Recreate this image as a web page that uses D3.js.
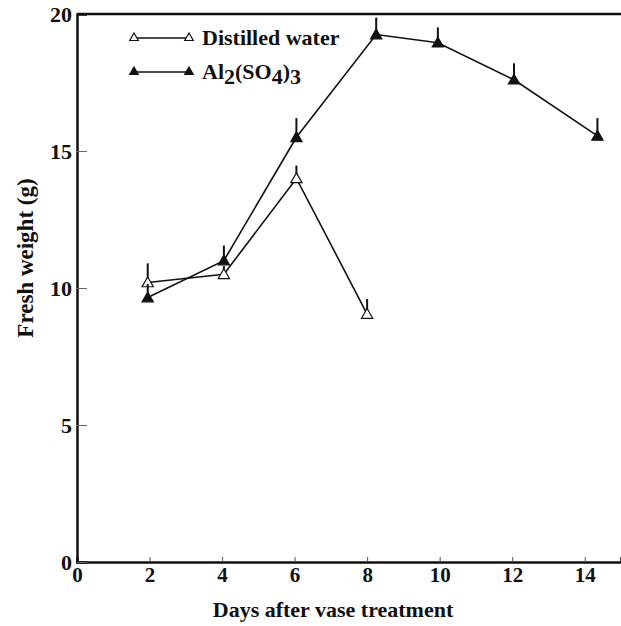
<!DOCTYPE html>
<html>
<head>
<meta charset="utf-8">
<script src="https://cdn.jsdelivr.net/npm/d3@7"></script>
<style>
  html, body { margin: 0; padding: 0; background: #fff; }
  text { font-family: 'Liberation Serif', 'Times New Roman', serif; font-weight: bold; fill: #111; }
</style>
</head>
<body>
<div id="chart"></div>
<script>
const waterDays = [1.95, 4.05, 6.05, 8.0]
const waterWeight = [10.2, 10.5, 14.0, 9.05]
const waterErr = [0.7, 0.3, 0.47, 0.55]

const alumDays = [1.95, 4.05, 6.05, 8.25, 9.95, 12.05, 14.35]
const alumWeight = [9.65, 11.0, 15.5, 19.25, 18.95, 17.6, 15.55]
const alumErr = [0.5, 0.55, 0.7, 0.62, 0.56, 0.6, 0.65]

const xTicks = [0, 2, 4, 6, 8, 10, 12, 14]
const yTicks = [0, 5, 10, 15, 20]

const w = 621, h = 626
const margin = { top: 14, right: 0, bottom: 64, left: 77 }

const svg = d3.select('#chart').append('svg').attr('width', w).attr('height', h)

const x = d3.scaleLinear().domain([0, 15]).range([margin.left, w - margin.right])
const y = d3.scaleLinear().domain([0, 20]).range([h - margin.bottom, margin.top])

// axes: ticks drawn inward
const xAxis = svg.append('g')
    .attr('transform', `translate(0,${y(0)})`)
    .call(d3.axisBottom(x).tickValues(xTicks).tickSize(-5).tickFormat(d3.format('d')))
xAxis.select('.domain').attr('stroke', '#111').attr('stroke-width', 2.5)
xAxis.selectAll('.tick line').attr('stroke', '#555').attr('stroke-width', 1)
xAxis.selectAll('.tick text').attr('font-size', '21px').attr('y', 20).attr('dy', 0)

const yAxis = svg.append('g')
    .attr('transform', `translate(${x(0)},0)`)
    .call(d3.axisLeft(y).tickValues(yTicks).tickSize(-10).tickFormat(d3.format('d')))
yAxis.select('.domain').attr('stroke', '#111').attr('stroke-width', 2.5)
yAxis.selectAll('.tick line').attr('stroke', '#666').attr('stroke-width', 1)
yAxis.selectAll('.tick text').attr('font-size', '22px').attr('x', -5).attr('dy', '0.34em')

// top border
svg.append('line')
    .attr('x1', x(0)).attr('x2', x(15))
    .attr('y1', y(20)).attr('y2', y(20))
    .attr('stroke', '#111').attr('stroke-width', 2.5)

const line = d3.line().x(d => x(d[0])).y(d => y(d[1]))
const tri = d3.symbol().type(d3.symbolTriangle).size(55)
const triSmall = d3.symbol().type(d3.symbolTriangle).size(32)

function drawSeries(days, vals, errs, fill) {
    const pts = days.map((d, i) => [d, vals[i], errs[i]])
    svg.append('path').datum(pts)
        .attr('d', line).attr('fill', 'none')
        .attr('stroke', '#111').attr('stroke-width', 1.6)
    svg.selectAll(null).data(pts).enter().append('line')
        .attr('x1', d => x(d[0])).attr('x2', d => x(d[0]))
        .attr('y1', d => y(d[1])).attr('y2', d => y(d[1] + d[2]))
        .attr('stroke', '#111').attr('stroke-width', 2)
    svg.selectAll(null).data(pts).enter().append('path')
        .attr('d', tri)
        .attr('transform', d => `translate(${x(d[0])},${y(d[1]) + 1})`)
        .attr('fill', fill).attr('stroke', '#111').attr('stroke-width', 1.2)
}

drawSeries(waterDays, waterWeight, waterErr, '#fff')
drawSeries(alumDays, alumWeight, alumErr, '#111')

// legend
const legend = svg.append('g').attr('transform', 'translate(134, 38)')
const legendRows = [
    { fill: '#fff', label: 'Distilled water' },
    { fill: '#111', label: null }
]
legendRows.forEach((r, i) => {
    const row = legend.append('g').attr('transform', `translate(0, ${i * 34})`)
    row.append('line').attr('x1', 0).attr('x2', 55).attr('y1', 0).attr('y2', 0)
        .attr('stroke', '#111').attr('stroke-width', 1.6)
    row.append('path').attr('d', triSmall).attr('transform', 'translate(0,0)')
        .attr('fill', r.fill).attr('stroke', '#111').attr('stroke-width', 1.2)
    row.append('path').attr('d', triSmall).attr('transform', 'translate(55,0)')
        .attr('fill', r.fill).attr('stroke', '#111').attr('stroke-width', 1.2)
    const t = row.append('text').attr('x', 68).attr('y', 7).attr('font-size', '22px')
    if (r.label) {
        t.text(r.label)
    } else {
        t.append('tspan').text('Al')
        t.append('tspan').attr('dy', 5).text('2')
        t.append('tspan').attr('dy', -5).text('(SO')
        t.append('tspan').attr('dy', 5).text('4')
        t.append('tspan').attr('dy', -5).text(')')
        t.append('tspan').attr('dy', 5).text('3')
    }
})

// axis titles
svg.append('text')
    .attr('x', 333).attr('y', 617)
    .attr('text-anchor', 'middle').attr('font-size', '22px')
    .text('Days after vase treatment')

svg.append('text')
    .attr('transform', 'translate(33, 258) rotate(-90)')
    .attr('text-anchor', 'middle').attr('font-size', '23px')
    .text('Fresh weight (g)')
</script>
</body>
</html>
